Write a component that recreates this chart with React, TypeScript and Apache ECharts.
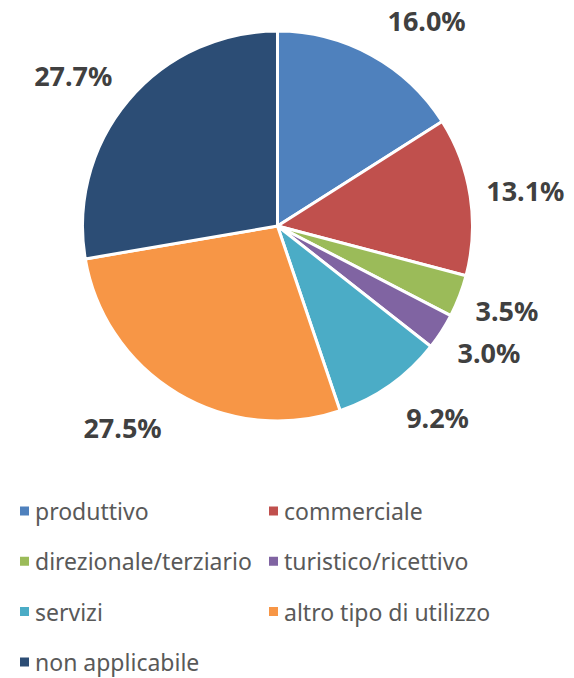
import React, { useEffect, useRef } from "react";
import * as echarts from "echarts";

const categories = [
  "produttivo",
  "commerciale",
  "direzionale/terziario",
  "turistico/ricettivo",
  "servizi",
  "altro tipo di utilizzo",
  "non applicabile",
];
const values = [16.0, 13.1, 3.5, 3.0, 9.2, 27.5, 27.7];
const colors = ["#4F81BD", "#C0504D", "#9BBB59", "#8064A2", "#4BACC6", "#F79646", "#2C4D75"];
const legendLeftColumn = ["produttivo", "direzionale/terziario", "servizi", "non applicabile"];
const legendRightColumn = ["commerciale", "turistico/ricettivo", "altro tipo di utilizzo"];

export default function App() {
  const ref = useRef<HTMLDivElement>(null);
  useEffect(() => {
    if (!ref.current) return;
    const chart = echarts.init(ref.current, null, { renderer: "svg" });
    const legendText = {
      color: "#595959",
      fontSize: 23,
      lineHeight: 24,
      fontFamily: "Noto Sans",
    };
    const legendCommon = {
      orient: "vertical",
      top: 494,
      height: 182,
      icon: "rect",
      itemWidth: 11,
      itemHeight: 11,
      itemGap: 26.3,
      textStyle: legendText,
      selectedMode: false,
    };
    chart.setOption({
      animation: false,
      color: colors,
      legend: [
        { ...legendCommon, data: legendLeftColumn, left: 13 },
        { ...legendCommon, data: legendRightColumn, left: 262 },
      ],
      series: [
        {
          type: "pie",
          center: [277.5, 226],
          radius: [0, 195],
          startAngle: 90,
          clockwise: true,
          data: categories.map((name, i) => ({ name, value: values[i] })),
          itemStyle: { borderColor: "#ffffff", borderWidth: 3 },
          label: {
            show: true,
            position: "outside",
            formatter: (p: any) => p.value.toFixed(1) + "%",
            fontFamily: "Noto Sans",
            fontWeight: "bold",
            fontSize: 27,
            lineHeight: 26,
            color: "#404040",
            width: 100,
            overflow: "none",
            distanceToLabelLine: 0,
          },
          labelLine: {
            show: true,
            length: 39,
            length2: 0,
            lineStyle: { opacity: 0 },
          },
          labelLayout: (params: any) => {
            const pts = params.labelLinePoints;
            if (!pts || pts.length < 2) return {};
            const p0 = pts[0];
            const p1 = pts[1];
            const sign = p1[0] >= p0[0] ? 1 : -1;
            return {
              x: p0[0] + sign * 16,
              y: p1[1],
              align: sign > 0 ? "left" : "right",
              verticalAlign: "middle",
            };
          },
          emphasis: { disabled: true },
        },
      ],
    });
    return () => chart.dispose();
  }, []);
  return (
    <div
      ref={ref}
      style={{ position: "absolute", left: 0, top: 0, width: 574, height: 678 }}
    />
  );
}
